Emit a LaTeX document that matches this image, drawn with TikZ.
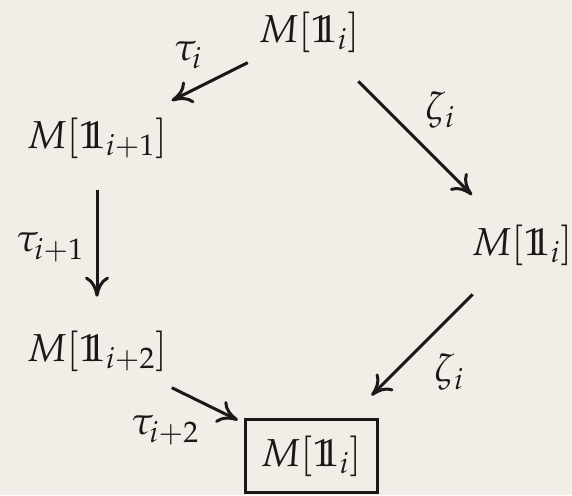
\documentclass[tikz,border=0pt]{standalone}
\usepackage{mathpazo}
\usetikzlibrary{arrows.meta}
\definecolor{cBg}{HTML}{F0EEE6}
\definecolor{cInk}{HTML}{1C1819}
\newcommand{\dsone}{\mathrm{1\mkern-5.5mu1}}
\newcommand{\Mone}[1]{M[\dsone_{#1}]}

\begin{document}
\begin{tikzpicture}[
    x=1pt, y=-1pt,
    font=\fontsize{39}{47}\selectfont,
    color=cInk,
    obj/.style={inner sep=0pt, outer sep=0pt},
    boxobj/.style={obj, draw=cInk, line width=3pt, minimum width=132pt, minimum height=73pt},
    lbl/.style={inner sep=0pt},
    arr/.style={-{Computer Modern Rightarrow[length=20pt,width=24pt]}, line width=3pt, cInk}
]
\fill[cBg] (0,0) rectangle (572,495);
\useasboundingbox (0,0) rectangle (572,495);

\node[obj] (top) at (309,32) {$\Mone{i}$};
\node[obj] (left1) at (97,138) {$\Mone{i+1}$};
\node[obj] (right) at (522,245) {$\Mone{i}$};
\node[obj] (left2) at (97,351) {$\Mone{i+2}$};
\node[boxobj] (bottom) at (311,456) {$\Mone{i}$};

\node[lbl] (ltau1) at (188,55) {$\tau_i$};
\node[lbl] (lzeta1) at (440,110) {$\zeta_i$};
\node[lbl] (ltau2) at (50,247) {$\tau_{i+1}$};
\node[lbl] (lzeta2) at (449,372) {$\zeta_i$};
\node[lbl] (ltau3) at (165,430) {$\tau_{i+2}$};

\draw[arr, shorten <=23pt, shorten >=38pt] (top) -- (left1);
\draw[arr, shorten <=41pt, shorten >=42pt] (top) -- (right);
\draw[arr, shorten <=32pt, shorten >=34pt] (left1) -- (left2);
\draw[arr, shorten <=41pt, shorten >=34pt] (right) -- (bottom);
\draw[arr, shorten <=37pt, shorten >=8pt] (left2) -- (bottom);
\end{tikzpicture}
\end{document}
